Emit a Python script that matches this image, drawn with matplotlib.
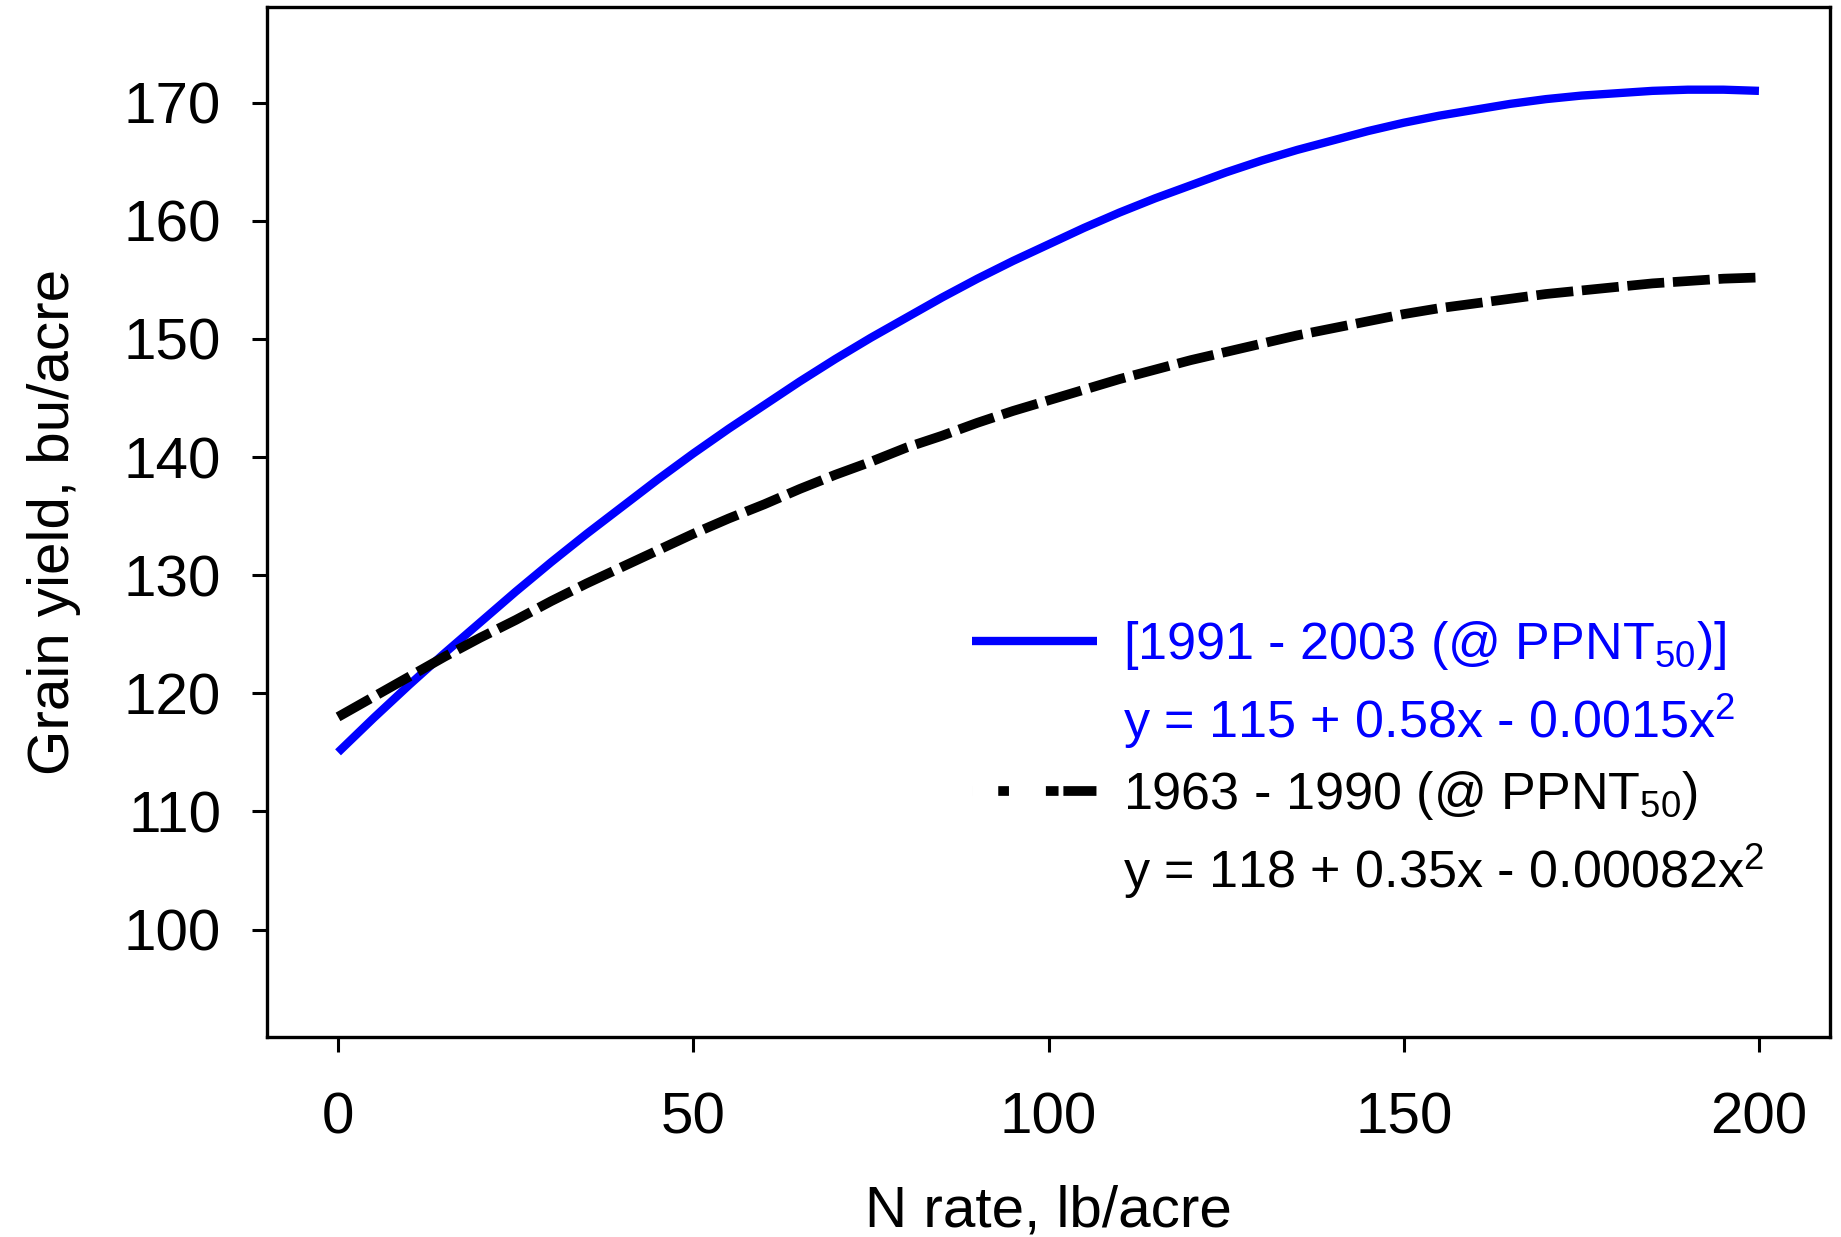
import matplotlib
matplotlib.use("Agg")
import matplotlib.pyplot as plt
from matplotlib.lines import Line2D

plt.rcParams["font.family"] = ["Liberation Sans", "DejaVu Sans"]
plt.rcParams["mathtext.fontset"] = "custom"
plt.rcParams["mathtext.rm"] = "Liberation Sans"
plt.rcParams["mathtext.it"] = "Liberation Sans:italic"

# N rate (lb/acre) and grain yield (bu/acre)
n_rate = [0, 5, 10, 15, 20, 25, 30, 35, 40, 45, 50, 55, 60, 65, 70, 75, 80,
          85, 90, 95, 100, 105, 110, 115, 120, 125, 130, 135, 140, 145, 150,
          155, 160, 165, 170, 175, 180, 185, 190, 195, 200]
yield_1991_2003 = [115.0, 117.9, 120.7, 123.4, 126.0, 128.6, 131.1, 133.5,
                   135.8, 138.1, 140.3, 142.4, 144.4, 146.4, 148.3, 150.1,
                   151.8, 153.5, 155.1, 156.6, 158.0, 159.4, 160.7, 161.9,
                   163.0, 164.1, 165.1, 166.0, 166.8, 167.6, 168.3, 168.9,
                   169.4, 169.9, 170.3, 170.6, 170.8, 171.0, 171.1, 171.1,
                   171.0]
yield_1963_1990 = [118.0, 119.7, 121.4, 123.1, 124.7, 126.2, 127.8, 129.3,
                   130.7, 132.1, 133.5, 134.8, 136.0, 137.3, 138.5, 139.6,
                   140.8, 141.8, 142.9, 143.9, 144.8, 145.7, 146.6, 147.4,
                   148.2, 148.9, 149.6, 150.3, 150.9, 151.5, 152.1, 152.6,
                   153.0, 153.4, 153.8, 154.1, 154.4, 154.7, 154.9, 155.1,
                   155.2]

x_ticks = [0, 50, 100, 150, 200]
y_ticks = [100, 110, 120, 130, 140, 150, 160, 170]

label_new = "[1991 - 2003 (@ PPNT$_{50}$)]"
eq_new = "y = 115 + 0.58x - 0.0015x$^{2}$"
label_old = "1963 - 1990 (@ PPNT$_{50}$)"
eq_old = "y = 118 + 0.35x - 0.00082x$^{2}$"

BLUE = "#0000ff"

fig = plt.figure(figsize=(18.41, 12.37), dpi=100)
ax = fig.add_axes([267 / 1841, 1 - 1037 / 1237, (1830 - 267) / 1841, (1037 - 7) / 1237])

ax.plot(n_rate, yield_1991_2003, color=BLUE, lw=6, solid_capstyle="butt")
ax.plot(n_rate, yield_1963_1990, color="black", lw=7,
        dashes=(3.8, 0.9), dash_capstyle="butt")

ax.set_xlim(-10, 210)
ax.set_ylim(90.9, 178.1)
ax.set_xticks(x_ticks)
ax.set_yticks(y_ticks)
ax.tick_params(direction="out", length=11, width=2.2, labelsize=42)
ax.tick_params(axis="x", pad=28)
ax.tick_params(axis="y", pad=22)
for s in ax.spines.values():
    s.set_linewidth(2.4)

ax.set_xlabel("N rate, lb/acre", fontsize=42, labelpad=28)
ax.set_ylabel("Grain yield, bu/acre", fontsize=42, labelpad=31)

# legend: two line entries, each followed by its equation
h_new = Line2D([], [], color=BLUE, lw=6, solid_capstyle="butt")
h_old = Line2D([], [], color="black", lw=7,
               linestyle=(0, (0.001, 2.7, 1.1, 3.8, 1.3, 0.5, 3.4, 2.0)),
               dash_capstyle="butt")
h_none = Line2D([], [], color="none")
leg = ax.legend([h_new, h_none, h_old, h_none],
                [label_new, eq_new, label_old, eq_old],
                loc="center left", bbox_to_anchor=(0.451, 0.269),
                frameon=False, fontsize=37.5, handlelength=2.4,
                handletextpad=0.5, labelspacing=0.36, borderpad=0,
                borderaxespad=0)
for i, t in enumerate(leg.get_texts()):
    t.set_color(BLUE if i < 2 else "black")

fig.savefig("out.png", dpi=100)
